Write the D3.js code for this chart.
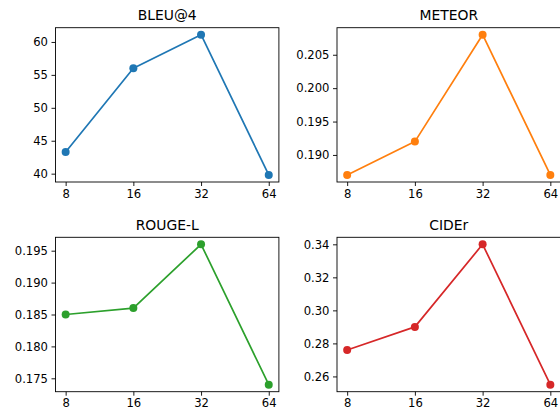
<!DOCTYPE html>
<html>
<head>
<meta charset="utf-8">
<script src="https://cdn.jsdelivr.net/npm/d3@7"></script>
<style>
  body { margin: 0; background: #fff; }
  svg { display: block; font-family: "DejaVu Sans", sans-serif; }
</style>
</head>
<body>
<div id="chart"></div>
<script>
// window sizes on x
var windows = [8, 16, 32, 64];

// metric values per window
var bleu   = [43.3, 56.0, 61.1, 39.8];
var meteor = [0.187, 0.192, 0.208, 0.187];
var rouge  = [0.185, 0.186, 0.196, 0.174];
var cider  = [0.276, 0.290, 0.340, 0.255];

// y tick labels
var bleuTicks   = [40, 45, 50, 55, 60];
var meteorTicks = [0.190, 0.195, 0.200, 0.205];
var rougeTicks  = [0.175, 0.180, 0.185, 0.190, 0.195];
var ciderTicks  = [0.26, 0.28, 0.30, 0.32, 0.34];

var panels = [
  {title: "BLEU@4",  values: bleu,   ticks: bleuTicks,   fmt: d3.format("d"),   color: "#1f77b4", x0: 55.5, x1: 278.9, y0: 27.7,  y1: 182},
  {title: "METEOR",  values: meteor, ticks: meteorTicks, fmt: d3.format(".3f"), color: "#ff7f0e", x0: 337,  x1: 560.5, y0: 27.7,  y1: 182},
  {title: "ROUGE-L", values: rouge,  ticks: rougeTicks,  fmt: d3.format(".3f"), color: "#2ca02c", x0: 55.5, x1: 278.9, y0: 237.3, y1: 391.7},
  {title: "CIDEr",   values: cider,  ticks: ciderTicks,  fmt: d3.format(".2f"), color: "#d62728", x0: 337,  x1: 560.5, y0: 237.3, y1: 391.7}
];

var svg = d3.select("#chart")
  .append("svg")
    .attr("width", 560)
    .attr("height", 410);

panels.forEach(function(p) {
  // matplotlib-style 5% margins
  var lo = Math.log2(d3.min(windows)), hi = Math.log2(d3.max(windows));
  var padX = (hi - lo) * 0.05;
  var x = d3.scaleLog().base(2)
    .domain([Math.pow(2, lo - padX), Math.pow(2, hi + padX)])
    .range([p.x0, p.x1]);

  var ext = d3.extent(p.values);
  var padY = (ext[1] - ext[0]) * 0.05;
  var y = d3.scaleLinear()
    .domain([ext[0] - padY, ext[1] + padY])
    .range([p.y1, p.y0]);

  var g = svg.append("g");

  // x axis
  g.append("g")
    .attr("transform", "translate(0," + p.y1 + ")")
    .call(d3.axisBottom(x).tickValues(windows).tickFormat(d3.format("d")).tickSize(4).tickPadding(3.5))
    .call(function(a) {
      a.select(".domain").remove();
      a.selectAll("line").attr("stroke", "#000").attr("stroke-width", 0.9);
      a.selectAll("text").attr("fill", "#000").style("font-size", "11.6px").style("font-family", "DejaVu Sans");
    });

  // y axis
  g.append("g")
    .attr("transform", "translate(" + p.x0 + ",0)")
    .call(d3.axisLeft(y).tickValues(p.ticks).tickFormat(p.fmt).tickSize(4).tickPadding(3.5))
    .call(function(a) {
      a.select(".domain").remove();
      a.selectAll("line").attr("stroke", "#000").attr("stroke-width", 0.9);
      a.selectAll("text").attr("fill", "#000").style("font-size", "11.6px").style("font-family", "DejaVu Sans");
    });

  // line
  var line = d3.line()
    .x(function(d, i) { return x(windows[i]); })
    .y(function(d) { return y(d); });

  g.append("path")
    .datum(p.values)
    .attr("d", line)
    .attr("fill", "none")
    .attr("stroke", p.color)
    .attr("stroke-width", 1.7)
    .attr("stroke-linejoin", "round");

  g.selectAll("circle")
    .data(p.values)
    .enter()
    .append("circle")
      .attr("cx", function(d, i) { return x(windows[i]); })
      .attr("cy", function(d) { return y(d); })
      .attr("r", 4)
      .attr("fill", p.color);

  // frame
  g.append("rect")
    .attr("x", p.x0)
    .attr("y", p.y0)
    .attr("width", p.x1 - p.x0)
    .attr("height", p.y1 - p.y0)
    .attr("fill", "none")
    .attr("stroke", "#000")
    .attr("stroke-width", 0.9);

  // title
  g.append("text")
    .attr("x", (p.x0 + p.x1) / 2)
    .attr("y", p.y0 - 7.5)
    .attr("text-anchor", "middle")
    .style("font-size", "13.9px")
    .text(p.title);
});
</script>
</body>
</html>
